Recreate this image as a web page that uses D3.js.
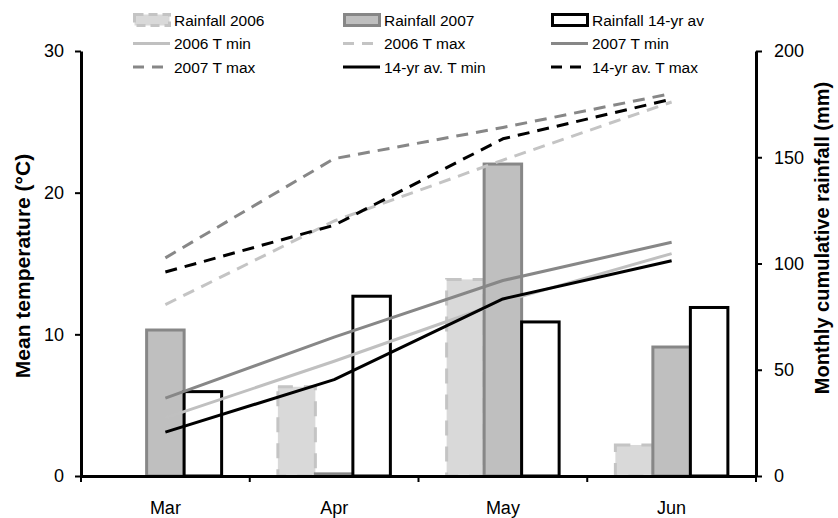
<!DOCTYPE html>
<html>
<head>
<meta charset="utf-8">
<script src="https://cdn.jsdelivr.net/npm/d3@7"></script>
<style>
  body { margin: 0; background: #fff; }
  svg { display: block; font-family: "Liberation Sans", Arial, sans-serif; }
</style>
</head>
<body>
<div id="chart"></div>
<script>
// months and values
const months = ["Mar", "Apr", "May", "Jun"];

const rain2006 = [0, 42, 92.5, 14.6];
const rain2007 = [68.7, 1, 146.8, 60.7];
const rain14yr = [39.7, 84.6, 72.5, 79.3];

const tmin2006 = [4.1, 8.1, 12.3, 15.7];
const tmax2006 = [12.1, 18.0, 22.3, 26.4];
const tmin2007 = [5.5, 9.8, 13.8, 16.5];
const tmax2007 = [15.4, 22.4, 24.6, 27.0];
const tmin14yr = [3.1, 6.8, 12.5, 15.2];
const tmax14yr = [14.4, 17.7, 23.8, 26.6];

const tempTicks = [0, 10, 20, 30];
const rainTicks = [0, 50, 100, 150, 200];

const width = 838, height = 518;
const margin = { top: 51, right: 82, bottom: 42, left: 81 };

const svg = d3.select("#chart").append("svg")
  .attr("width", width)
  .attr("height", height);

const x = d3.scaleBand()
  .domain(months)
  .range([margin.left, width - margin.right])
  .paddingInner(0)
  .paddingOuter(0);

const rainSeries = [
  { name: "Rainfall 2006", values: rain2006, fill: "#d9d9d9", stroke: "#c4c4c4", dash: "15,11" },
  { name: "Rainfall 2007", values: rain2007, fill: "#bfbfbf", stroke: "#878787", dash: null },
  { name: "Rainfall 14-yr av", values: rain14yr, fill: "#ffffff", stroke: "#000000", dash: null }
];

const tempSeries = [
  { name: "2006 T min", values: tmin2006, stroke: "#c0c0c0", dash: null },
  { name: "2006 T max", values: tmax2006, stroke: "#c4c4c4", dash: "12,8" },
  { name: "2007 T min", values: tmin2007, stroke: "#878787", dash: null },
  { name: "2007 T max", values: tmax2007, stroke: "#878787", dash: "12,8" },
  { name: "14-yr av. T min", values: tmin14yr, stroke: "#000000", dash: null },
  { name: "14-yr av. T max", values: tmax14yr, stroke: "#000000", dash: "12,8" }
];

// bars inside each month: 3 bars, gap width 150%
const xSub = d3.scaleBand()
  .domain(rainSeries.map(d => d.name))
  .range([0, x.bandwidth()])
  .paddingInner(0)
  .paddingOuter(0.75);

const yT = d3.scaleLinear().domain([0, 30]).range([height - margin.bottom, margin.top]);
const yR = d3.scaleLinear().domain([0, 200]).range([height - margin.bottom, margin.top]);

// bars
rainSeries.forEach(s => {
  svg.append("g")
    .selectAll("rect")
    .data(s.values.map((v, i) => ({ month: months[i], value: v })))
    .join("rect")
    .attr("x", d => x(d.month) + xSub(s.name))
    .attr("width", xSub.bandwidth())
    .attr("y", d => yR(d.value))
    .attr("height", d => yR(0) - yR(d.value))
    .attr("fill", s.fill)
    .attr("stroke", s.stroke)
    .attr("stroke-width", 3)
    .attr("stroke-dasharray", s.dash);
});

// temperature lines
const line = d3.line()
  .x((d, i) => x(months[i]) + x.bandwidth() / 2)
  .y(d => yT(d));

tempSeries.forEach(s => {
  svg.append("path")
    .datum(s.values)
    .attr("fill", "none")
    .attr("stroke", s.stroke)
    .attr("stroke-width", 3)
    .attr("stroke-linejoin", "round")
    .attr("stroke-dasharray", s.dash)
    .attr("d", line);
});

// axes
const axisFont = 18;

const left = svg.append("g")
  .attr("transform", `translate(${margin.left},0)`)
  .call(d3.axisLeft(yT).tickValues(tempTicks).tickSize(6).tickPadding(11).tickSizeOuter(0));

const right = svg.append("g")
  .attr("transform", `translate(${width - margin.right},0)`)
  .call(d3.axisRight(yR).tickValues(rainTicks).tickSize(6).tickPadding(12).tickSizeOuter(0));

const bottom = svg.append("g")
  .attr("transform", `translate(0,${height - margin.bottom})`)
  .call(d3.axisBottom(x).tickSize(0).tickPadding(25).tickSizeOuter(0));

// tick marks between months, like the spreadsheet axis
bottom.selectAll(".between")
  .data(months.map(m => x(m)).concat([x.range()[1]]))
  .join("line")
  .attr("class", "between")
  .attr("x1", d => d).attr("x2", d => d)
  .attr("y1", 0).attr("y2", 6)
  .attr("stroke", "#000")
  .attr("stroke-width", 2);

[left, right, bottom].forEach(g => {
  g.select(".domain").attr("stroke", "#000").attr("stroke-width", 3);
  g.selectAll(".tick line").attr("stroke", "#000").attr("stroke-width", 2);
  g.selectAll("text")
    .attr("font-family", "Liberation Sans, Arial, sans-serif")
    .attr("font-size", axisFont)
    .attr("fill", "#000");
});

// axis titles
svg.append("text")
  .attr("transform", "translate(22,266) rotate(-90)")
  .attr("text-anchor", "middle")
  .attr("dominant-baseline", "central")
  .attr("font-size", 21)
  .attr("font-weight", "bold")
  .text("Mean temperature (°C)");

svg.append("text")
  .attr("transform", "translate(822,238) rotate(-90)")
  .attr("text-anchor", "middle")
  .attr("dominant-baseline", "central")
  .attr("font-size", 20)
  .attr("font-weight", "bold")
  .text("Monthly cumulative rainfall (mm)");

// legend: 3 columns x 3 rows
const legendItems = rainSeries.map(s => ({ ...s, type: "bar" }))
  .concat(tempSeries.map(s => ({ ...s, type: "line" })));
const colX = [133, 343, 551];
const rowY = [20, 43.5, 67];

const legend = svg.append("g")
  .selectAll("g")
  .data(legendItems)
  .join("g")
  .attr("transform", (d, i) => `translate(${colX[i % 3]},${rowY[Math.floor(i / 3)]})`);

legend.filter(d => d.type === "bar")
  .append("rect")
  .attr("x", 1.5).attr("y", -5.5)
  .attr("width", 35).attr("height", 11)
  .attr("fill", d => d.fill)
  .attr("stroke", d => d.stroke)
  .attr("stroke-width", 3)
  .attr("stroke-dasharray", d => d.dash ? "9,5" : null);

legend.filter(d => d.type === "line")
  .append("line")
  .attr("x1", 0).attr("x2", 37)
  .attr("y1", 0).attr("y2", 0)
  .attr("stroke", d => d.stroke)
  .attr("stroke-width", 3)
  .attr("stroke-dasharray", d => d.dash ? "11,8" : null);

legend.append("text")
  .attr("x", 41)
  .attr("y", 0)
  .attr("dominant-baseline", "central")
  .attr("font-size", 15.5)
  .text(d => d.name);
</script>
</body>
</html>
